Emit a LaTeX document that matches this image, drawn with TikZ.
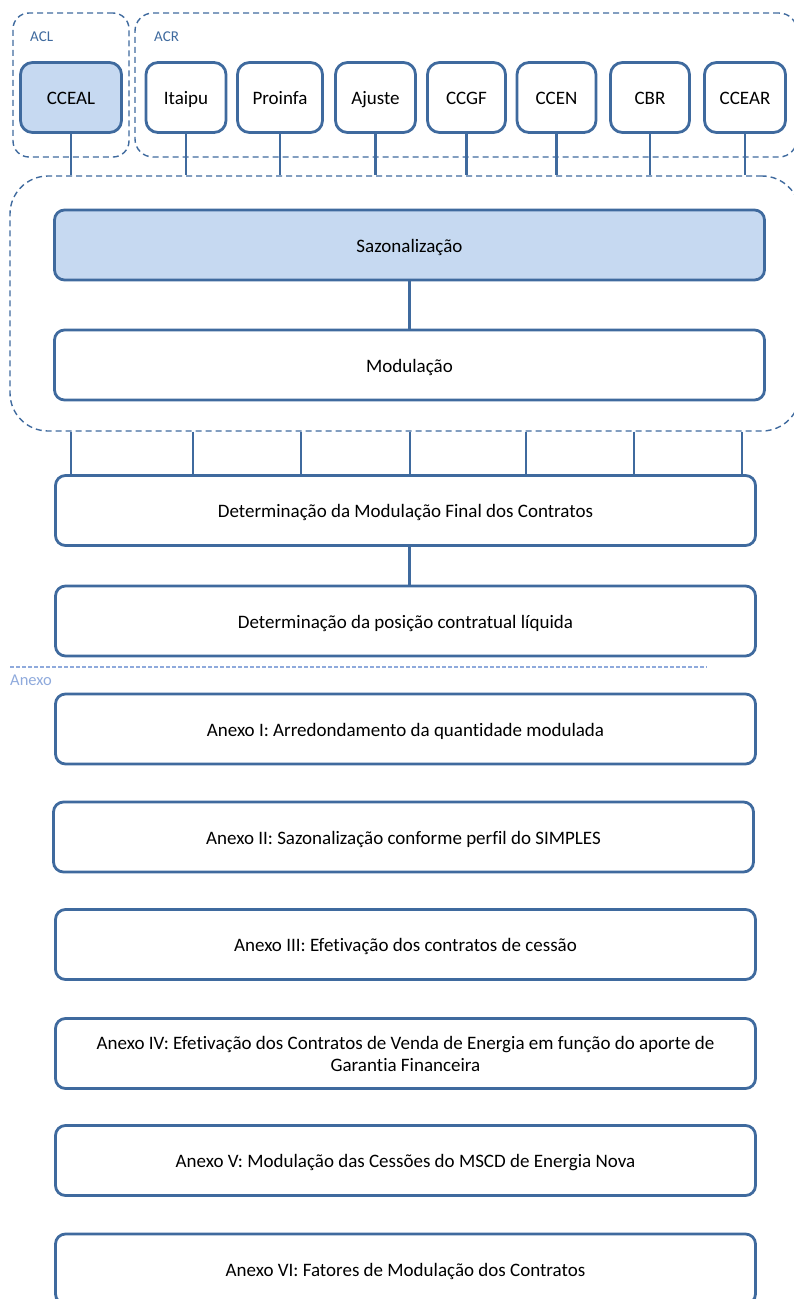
\documentclass[tikz,border=0pt]{standalone}
\usepackage{fontspec}
\setmainfont{Carlito}[Ligatures=CommonOff]
\definecolor{edge}{HTML}{3F6A9E}
\definecolor{fillb}{HTML}{C6D9F1}
\definecolor{anexo}{HTML}{8FAADC}
\tikzset{
  box/.style={draw=edge, line width=2.8pt, rounded corners=10pt, fill=white, align=center,
    inner sep=0pt, text height=15pt, text depth=1pt, font=\fontsize{19}{22}\selectfont},
  topbox/.style={box, rounded corners=12pt, minimum height=70pt},
  mainbox/.style={box, minimum height=70pt},
  hl/.style={fill=fillb},
  group/.style={draw=edge, line width=1.4pt, dash pattern=on 6pt off 4pt, inner sep=0pt},
  link/.style={draw=edge, line width=2.8pt},
  grouplabel/.style={text=edge, anchor=west, inner sep=0pt, font=\fontsize{15}{18}\selectfont},
}
\begin{document}
\begin{tikzpicture}[x=1pt, y=-1pt]
\useasboundingbox (0,0) rectangle (793,1299);

% dashed groups
\node[group, rounded corners=16pt, minimum width=116pt, minimum height=144pt] (acl) at (71,85) {};
\node[group, rounded corners=18pt, minimum width=662pt, minimum height=144pt] (acr) at (466,85) {};
\node[group, rounded corners=38pt, minimum width=790pt, minimum height=255pt] (grp) at (405,303.5) {};
\node[grouplabel] (acllab) at (30,37) {ACL};
\node[grouplabel] (acrlab) at (154,37) {ACR};

% top boxes
\node[topbox, hl, minimum width=101pt] (cceal) at (71,97.5) {CCEAL};
\node[topbox, minimum width=80pt] (itaipu) at (186,97.5) {Itaipu};
\node[topbox, minimum width=85pt] (proinfa) at (280,97.5) {Proinfa};
\node[topbox, minimum width=80pt] (ajuste) at (375.5,97.5) {Ajuste};
\node[topbox, minimum width=78pt] (ccgf) at (466.5,97.5) {CCGF};
\node[topbox, minimum width=79pt] (ccen) at (556.5,97.5) {CCEN};
\node[topbox, minimum width=79pt] (cbr) at (650,97.5) {CBR};
\node[topbox, minimum width=81pt] (ccear) at (745,97.5) {CCEAR};

\foreach \n in {cceal,itaipu,proinfa,ajuste,ccgf,ccen,cbr,ccear}
  \draw[link] (\n.south) -- (\n.south |- grp.north);

% main boxes
\node[mainbox, hl, minimum width=710pt] (saz) at (409.5,245) {Sazonalização};
\node[mainbox, minimum width=710pt] (mod) at (409.5,365) {Modulação};
\draw[link] (saz.south -| mod.south) -- (mod.north);

\node[mainbox, minimum width=700pt] (det) at (405.5,510.5) {Determinação da Modulação Final dos Contratos};
\node[mainbox, minimum width=700pt] (pos) at (405.5,621) {Determinação da posição contratual líquida};

\foreach \x [count=\i] in {71,193,301,410,526,634,742}
  \coordinate (b\i) at (\x,0);
\foreach \i in {1,...,7}
  \draw[link] (grp.south -| b\i) -- (det.north -| b\i);
\draw[link] (det.south -| mod.south) -- (pos.north -| mod.south);

% anexo separator
\coordinate (sepl) at (10,667);
\coordinate (sepr) at (707,667);
\draw[anexo, line width=1.4pt, dash pattern=on 4pt off 2pt] (sepl) -- (sepr);
\node[text=anexo, anchor=west, inner sep=0pt, font=\fontsize{16.5}{20}\selectfont] (anexolab) at (10,680) {Anexo};

\node[mainbox, minimum width=700pt] (a1) at (405.5,729) {Anexo I: Arredondamento da quantidade modulada};
\node[mainbox, minimum width=700pt] (a2) at (403.5,837) {Anexo II: Sazonalização conforme perfil do SIMPLES};
\node[mainbox, minimum width=700pt] (a3) at (405.5,944.5) {Anexo III: Efetivação dos contratos de cessão};
\node[mainbox, minimum width=700pt, text height={}, text depth={}] (a4) at (405.5,1053.5) {Anexo IV: Efetivação dos Contratos de Venda de Energia em função do aporte de\\Garantia Financeira};
\node[mainbox, minimum width=700pt] (a5) at (405.5,1160.5) {Anexo V: Modulação das Cessões do MSCD de Energia Nova};
\node[mainbox, minimum width=700pt] (a6) at (405.5,1269) {Anexo VI: Fatores de Modulação dos Contratos};
\end{tikzpicture}
\end{document}
